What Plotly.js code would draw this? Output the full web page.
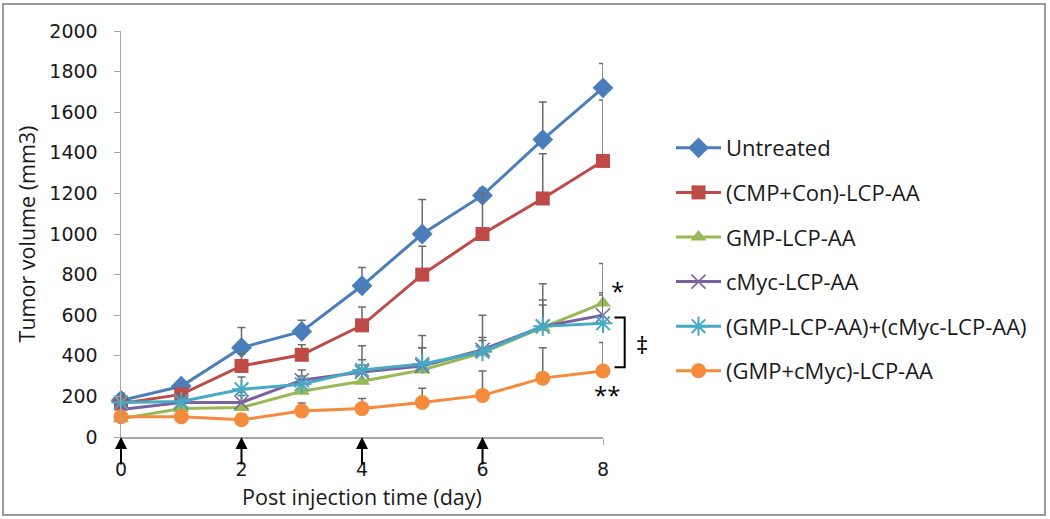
<!DOCTYPE html>
<html>
<head>
<meta charset="utf-8">
<script src="https://cdn.plot.ly/plotly-3.0.1.min.js"></script>
<style>html,body{margin:0;padding:0;background:#fff;}#chart{width:1050px;height:519px;}</style>
</head>
<body>
<div id="chart"></div>
<script>
// ---- data ----
const days = [0, 1, 2, 3, 4, 5, 6, 7, 8];
const seriesNames = ["Untreated", "(CMP+Con)-LCP-AA", "GMP-LCP-AA", "cMyc-LCP-AA", "(GMP-LCP-AA)+(cMyc-LCP-AA)", "(GMP+cMyc)-LCP-AA"];
const untreated   = [180, 250, 440, 520, 745, 1000, 1190, 1465, 1720];
const cmpCon      = [165, 210, 350, 405, 550, 800, 1000, 1175, 1360];
const gmp         = [90, 140, 145, 225, 275, 330, 415, 540, 660];
const cmyc        = [135, 170, 170, 280, 320, 350, 430, 545, 600];
const gmpAndCmyc  = [170, 175, 235, 260, 330, 360, 420, 545, 560];
const gmpCmycCo   = [100, 100, 85, 128, 140, 170, 205, 290, 325];
const errUntreated  = [35, 20, 100, 55, 90, 170, 35, 185, 120];
const errCmpCon     = [30, 30, 60, 50, 90, 140, 200, 220, 300];
const errGmp        = [30, 40, 60, 60, 80, 110, 60, 110, 195];
const errCmyc       = [30, 30, 50, 50, 60, 90, 60, 130, 100];
const errGmpAndCmyc = [40, 30, 60, 40, 120, 140, 180, 210, 150];
const errGmpCmycCo  = [20, 20, 30, 40, 50, 70, 120, 150, 140];
const injectionDays = [0, 2, 4, 6];
const xTicks = [0, 2, 4, 6, 8];
const yTicks = [0, 200, 400, 600, 800, 1000, 1200, 1400, 1600, 1800, 2000];
const sigMarks = ["*", "**", "‡"];

const values = [untreated, cmpCon, gmp, cmyc, gmpAndCmyc, gmpCmycCo];
const errs = [errUntreated, errCmpCon, errGmp, errCmyc, errGmpAndCmyc, errGmpCmycCo];
const colors = ["#4A7EBB", "#BE4B48", "#98B954", "#7D60A0", "#46AAC5", "#F38A3C"];
const markers = [
  {symbol: "diamond", size: 16},
  {symbol: "square", size: 14},
  {symbol: "triangle-up", size: 14},
  {symbol: "x-thin", size: 14, line: {width: 1.5}},
  {symbol: "asterisk-open", size: 16, line: {width: 2}},
  {symbol: "circle", size: 15}
];

const FONT = "'Open Sans', sans-serif";
const TICKFONT = "'DejaVu Sans', sans-serif";
const XMAX = 8, YMAX = 2000;

const traces = values.map((v, i) => {
  const m = Object.assign({color: colors[i]}, markers[i]);
  if (m.line) m.line = Object.assign({color: colors[i]}, m.line);
  return {
    type: "scatter", mode: "lines+markers",
    x: days, y: v, name: seriesNames[i],
    legendgroup: "g" + i,
    line: {color: colors[i], width: 3},
    marker: m,
    cliponaxis: false,
    error_y: {type: "data", array: errs[i], arrayminus: errs[i].map(() => 0), symmetric: false,
              color: "#6b6b6b", thickness: 1.5, width: 4}
  };
});

// data -> paper helpers (for marks placed outside the axis range)
const dx = d => d / XMAX;
const dy = v => v / YMAX;

const annotations = injectionDays.map(d => ({
  x: d, y: 0, xref: "x", yref: "y", ax: 0, ay: 29, axref: "pixel", ayref: "pixel",
  showarrow: true, arrowhead: 2, arrowsize: 1.2, arrowwidth: 2, arrowcolor: "#000", text: ""
}));
const sigPos = [[8.24, 720], [8.07, 210], [8.64, 455]];
sigPos.forEach((p, i) => annotations.push({
  x: dx(p[0]), y: dy(p[1]), xref: "paper", yref: "paper", xanchor: "center", yanchor: "middle",
  text: sigMarks[i], showarrow: false, font: {family: FONT, size: 24, color: "#000"}
}));

const M = {l: 121, r: 447, t: 31, b: 82};
const W = 1050, H = 519;
const pw = W - M.l - M.r, ph = H - M.t - M.b;
const px2x = p => (p - M.l) / pw;
const py2y = p => (H - M.b - p) / ph;

const shapes = [
  {type: "rect", xref: "paper", yref: "paper", x0: px2x(3), x1: px2x(1045), y0: py2y(515), y1: py2y(4),
   line: {color: "#9a9a9a", width: 2}, layer: "below"},
  {type: "path", xref: "paper", yref: "paper",
   path: `M${dx(8.19)},${dy(589)} L${dx(8.36)},${dy(589)} L${dx(8.36)},${dy(343)} L${dx(8.19)},${dy(343)}`,
   line: {color: "#000", width: 2}}
];

const layout = {
  width: W, height: H,
  margin: M,
  paper_bgcolor: "#fff", plot_bgcolor: "#fff",
  font: {family: FONT, size: 21, color: "#1a1a1a"},
  showlegend: true,
  legend: {xref: "container", yref: "container", x: 671 / W, y: 1 - 127 / H, xanchor: "left", yanchor: "top",
           traceorder: "grouped", tracegroupgap: 13, itemwidth: 45, maxheight: 400,
           font: {family: FONT, size: 22, color: "#1a1a1a"},
           bgcolor: "rgba(0,0,0,0)"},
  xaxis: {range: [0, XMAX], tickvals: xTicks, ticktext: xTicks.map(String), showgrid: false, zeroline: false,
          showline: true, linecolor: "#a6a6a6", linewidth: 1.5, ticks: "outside", ticklen: 6, tickcolor: "#a6a6a6",
          ticklabelstandoff: 9, tickfont: {family: TICKFONT, size: 19},
          title: {text: "Post injection time (day)", font: {family: FONT, size: 21.5}, standoff: 10}},
  yaxis: {range: [0, YMAX], tickvals: yTicks, showgrid: false, zeroline: false,
          showline: true, linecolor: "#a6a6a6", linewidth: 1.5, ticks: "outside", ticklen: 6, tickcolor: "#a6a6a6",
          ticklabelstandoff: 12, tickfont: {family: TICKFONT, size: 19},
          title: {text: "Tumor volume (mm3)", font: {family: FONT, size: 21.5}, standoff: 8}},
  annotations: annotations,
  shapes: shapes
};

Plotly.newPlot("chart", traces, layout, {displayModeBar: false, staticPlot: true});
</script>
</body>
</html>
